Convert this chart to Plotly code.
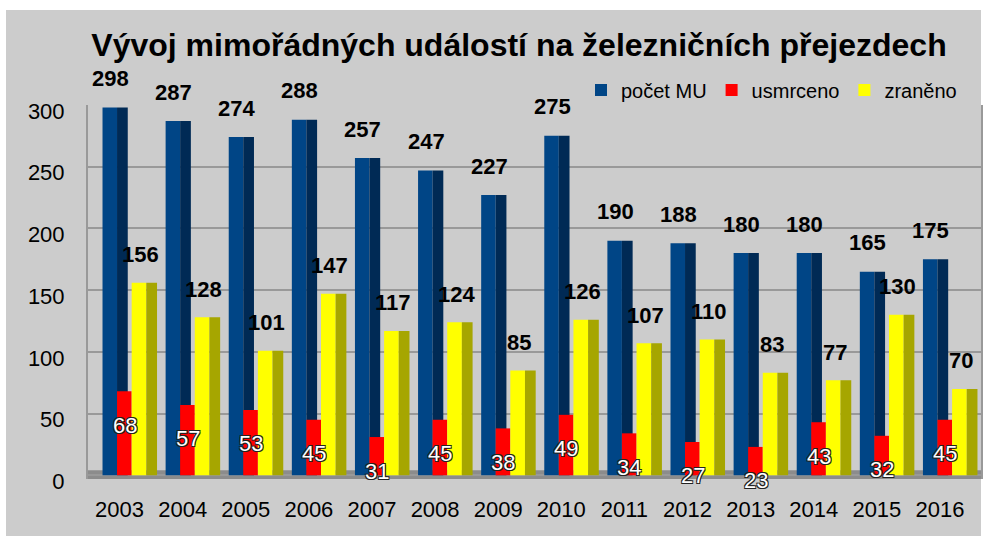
import plotly.graph_objects as go

years = ["2003", "2004", "2005", "2006", "2007", "2008", "2009", "2010",
         "2011", "2012", "2013", "2014", "2015", "2016"]
pocet_mu = [298, 287, 274, 288, 257, 247, 227, 275, 190, 188, 180, 180, 165, 175]
usmrceno = [68, 57, 53, 45, 31, 45, 38, 49, 34, 27, 23, 43, 32, 45]
zraneno = [156, 128, 101, 147, 117, 124, 85, 126, 107, 110, 83, 77, 130, 70]
y_ticks = [0, 50, 100, 150, 200, 250, 300]

FONT = "Liberation Sans, Arial, sans-serif"
BLUE, BLUE_SIDE = "#004586", "#002a55"
RED = "#ff0000"
YEL, YEL_SIDE = "#ffff00", "#a6a600"

# plot area geometry (px)
L, R, T, B = 88, 6, 105, 61
W, H = 987, 540
pw = W - L - R
ph = H - T - B

fig = go.Figure()
fig.add_trace(go.Bar(x=years, y=pocet_mu, name="počet MU", marker_color=BLUE,
                     offset=-0.27, width=0.23, marker_line_width=0))
fig.add_trace(go.Bar(x=years, y=pocet_mu, name="počet MU side", marker_color=BLUE_SIDE,
                     offset=-0.04, width=0.17, marker_line_width=0, showlegend=False))
fig.add_trace(go.Bar(x=years, y=usmrceno, name="usmrceno", marker_color=RED,
                     offset=-0.04, width=0.232, marker_line_width=0))
fig.add_trace(go.Bar(x=years, y=zraneno, name="zraněno", marker_color=YEL,
                     offset=0.192, width=0.232, marker_line_width=0))
fig.add_trace(go.Bar(x=years, y=zraneno, name="zraněno side", marker_color=YEL_SIDE,
                     offset=0.424, width=0.17, marker_line_width=0, showlegend=False))

ann = []
for i, v in enumerate(pocet_mu):
    ann.append(dict(x=i, y=v, text=str(v), showarrow=False, xshift=-9, yshift=29,
                    font=dict(family=FONT, size=22, color="black", weight="bold")))
for i, v in enumerate(zraneno):
    ann.append(dict(x=i, y=v, text=str(v), showarrow=False, xshift=21, yshift=28,
                    font=dict(family=FONT, size=22, color="black", weight="bold")))
outline = "1px 1px 0 #222, -1px -1px 0 #222, 1px -1px 0 #222, -1px 1px 0 #222"
for i, v in enumerate(usmrceno):
    ann.append(dict(x=i, y=v, text=str(v), showarrow=False, xshift=5, yshift=-34,
                    font=dict(family=FONT, size=22, color="white", shadow=outline)))

shapes = [
    # grey panel
    dict(type="rect", xref="paper", yref="paper",
         x0=(6 - L) / pw, x1=(981 - L) / pw,
         y0=(H - B - 536) / ph, y1=(H - B - 10) / ph,
         fillcolor="#cccccc", line_width=0, layer="below"),
    # floor
    dict(type="rect", xref="paper", yref="y", x0=0, x1=1, y0=-3, y1=4,
         fillcolor="#8c8c8c", line_width=0, layer="below"),
]

fig.update_layout(
    width=W, height=H,
    margin=dict(l=L, r=R, t=T, b=B, autoexpand=False),
    paper_bgcolor="white",
    plot_bgcolor="rgba(0,0,0,0)",
    barmode="overlay",
    title=dict(text="<b>Vývoj mimořádných událostí na železničních přejezdech</b>",
               xref="container", yref="container", x=519 / W, y=1 - 45 / H,
               xanchor="center", yanchor="middle",
               font=dict(family=FONT, size=32, color="black")),
    legend=dict(orientation="h", xanchor="right", yanchor="middle",
                x=(962 - L) / pw, y=(H - B - 90) / ph,
                bgcolor="rgba(0,0,0,0)", font=dict(family=FONT, size=20, color="black"),
                itemwidth=30, traceorder="normal"),
    annotations=ann,
    shapes=shapes,
    font=dict(family=FONT, color="black"),
)
fig.update_xaxes(type="category", range=[-0.5, 13.65], showgrid=False, showline=False,
                 ticks="", tickfont=dict(family=FONT, size=22, color="black"),
                 ticklabelstandoff=15, automargin=False)
fig.update_yaxes(range=[-3, 300], tickvals=y_ticks, showgrid=True, gridcolor="#999999",
                 gridwidth=1.5, zeroline=False, showline=True, linecolor="#999999",
                 linewidth=2, mirror=True, ticks="",
                 tickfont=dict(family=FONT, size=22, color="black"),
                 ticklabelstandoff=17, ticklabelshift=6, automargin=False)

fig.write_html("out.html", config={"displayModeBar": False},
               post_script="document.body.style.margin='0';")
